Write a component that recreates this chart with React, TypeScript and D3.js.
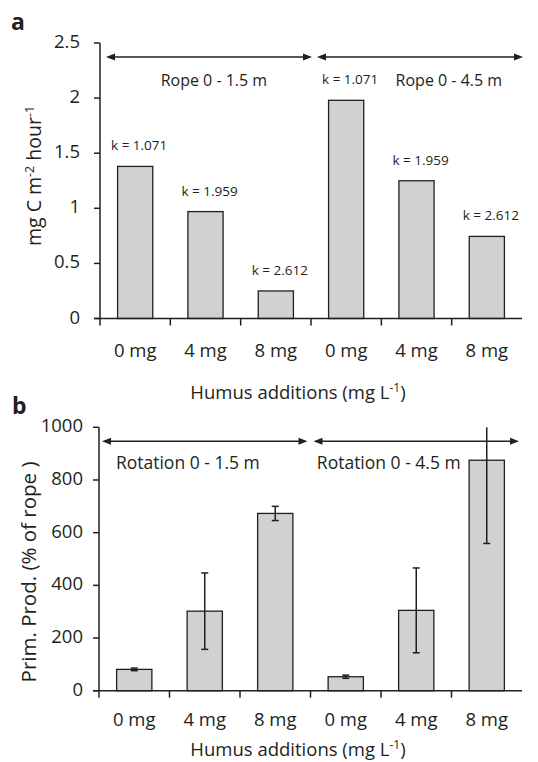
import React from 'react';
import * as d3 from 'd3';

const categories = ['0 mg', '4 mg', '8 mg', '0 mg', '4 mg', '8 mg'];

// panel a: rate per treatment and k labels
const rateValues = [1.38, 0.97, 0.25, 1.98, 1.25, 0.745];
const kLabels = ['k = 1.071', 'k = 1.959', 'k = 2.612', 'k = 1.071', 'k = 1.959', 'k = 2.612'];
const rateTicks = [0, 0.5, 1, 1.5, 2, 2.5];
const ropeGroups = ['Rope 0 - 1.5 m', 'Rope 0 - 4.5 m'];

// panel b: primary production relative to rope, with errors
const primValues = [81, 302, 673, 53, 305, 875];
const primErrors = [5, 145, 27, 6, 161, 316];
const primTicks = [0, 200, 400, 600, 800, 1000];
const rotationGroups = ['Rotation 0 - 1.5 m', 'Rotation 0 - 4.5 m'];

const FONT = '"Open Sans", Lato, sans-serif';
const INK = '#231f20';
const BAR_FILL = '#d0d1d0';

type PanelProps = {
  letter: string;
  values: number[];
  errors?: number[];
  ticks: number[];
  groups: string[];
  top: number;
  bottom: number;
  left: number;
  right: number;
  tickRight: number;
  catDy: number;
  yTitle: React.ReactNode;
  yTitleX: number;
  yTitleY: number;
  yTitleSize: number;
  groupAnchor: 'middle' | 'start';
  groupPos: number[];
  groupLabelDy: number;
  groupSize: number;
  arrowInset: [number, number];
  labels?: string[];
};

const Arrow = ({ x1, x2, y }: { x1: number; x2: number; y: number }) => (
  <g>
    <line x1={x1 + 6} x2={x2 - 6} y1={y} y2={y} stroke={INK} strokeWidth={1.5} />
    <path d={`M${x1},${y}L${x1 + 9},${y - 3.5}L${x1 + 9},${y + 3.5}Z`} fill={INK} />
    <path d={`M${x2},${y}L${x2 - 9},${y - 3.5}L${x2 - 9},${y + 3.5}Z`} fill={INK} />
  </g>
);

const Panel = (p: PanelProps) => {
  const x = d3.scaleBand<number>()
    .domain(d3.range(categories.length))
    .range([p.left, p.right])
    .paddingInner(0.5)
    .paddingOuter(0.25);
  const step = x.step();
  const y = d3.scaleLinear()
    .domain([0, p.ticks[p.ticks.length - 1]])
    .range([p.bottom, p.top]);
  const yMax = y.domain()[1];
  const edge = (i: number) => p.left + step * i;
  const arrowY = p.top + 14;

  return (
    <g fontFamily={FONT} fill={INK}>
      <text x={p.letter === 'a' ? 11 : 12} y={p.top - 13} fontSize={23} fontWeight="bold">{p.letter}</text>

      {/* bars */}
      {p.values.map((v, i) => (
        <rect key={i} x={x(i)} y={y(v)} width={x.bandwidth()} height={p.bottom - y(v)}
          fill={BAR_FILL} stroke={INK} strokeWidth={1.3} />
      ))}

      {/* error bars */}
      {p.errors && p.values.map((v, i) => {
        const e = p.errors![i];
        const cx = (x(i) as number) + x.bandwidth() / 2;
        const hi = Math.min(v + e, yMax);
        const lo = v - e;
        return (
          <g key={i} stroke={INK} strokeWidth={1.5}>
            <line x1={cx} x2={cx} y1={y(hi)} y2={y(lo)} />
            {v + e <= yMax && <line x1={cx - 3.5} x2={cx + 3.5} y1={y(hi)} y2={y(hi)} />}
            <line x1={cx - 3.5} x2={cx + 3.5} y1={y(lo)} y2={y(lo)} />
          </g>
        );
      })}

      {/* k labels */}
      {p.labels && p.values.map((v, i) => (
        <text key={i} x={(x(i) as number) + x.bandwidth() / 2 + 4} y={y(v) - 16}
          fontSize={13.5} textAnchor="middle">{p.labels![i]}</text>
      ))}

      {/* y axis */}
      <line x1={p.left} x2={p.left} y1={p.top} y2={p.bottom} stroke={INK} strokeWidth={1.5} />
      {p.ticks.map((t) => (
        <g key={t}>
          <line x1={p.left - 6} x2={p.left} y1={y(t)} y2={y(t)} stroke={INK} strokeWidth={1.5} />
          <text x={p.tickRight} y={y(t) + 5} fontSize={18.5} textAnchor="end">{String(t)}</text>
        </g>
      ))}

      {/* x axis */}
      <line x1={p.left - 6} x2={p.right} y1={p.bottom} y2={p.bottom} stroke={INK} strokeWidth={1.5} />
      {d3.range(categories.length).map((i) => (
        <line key={i} x1={edge(i)} x2={edge(i)} y1={p.bottom} y2={p.bottom + 7} stroke={INK} strokeWidth={1.5} />
      ))}
      {categories.map((c, i) => (
        <text key={i} x={(x(i) as number) + x.bandwidth() / 2} y={p.bottom + p.catDy} fontSize={18.5} textAnchor="middle">{c}</text>
      ))}

      {/* group arrows */}
      {p.groups.map((g, gi) => (
        <g key={g}>
          <Arrow x1={edge(gi * 3) + p.arrowInset[0]} x2={edge(gi * 3 + 3) + p.arrowInset[1]} y={arrowY} />
          <text x={p.left + step * (p.groupPos[gi] + 0.5)} y={arrowY + p.groupLabelDy}
            fontSize={p.groupSize} textAnchor={p.groupAnchor}>{g}</text>
        </g>
      ))}

      {/* y title */}
      <text transform={`translate(${p.yTitleX},${p.yTitleY}) rotate(-90)`}
        fontSize={p.yTitleSize} textAnchor="middle">{p.yTitle}</text>
    </g>
  );
};

const XTitle = ({ y }: { y: number }) => (
  <text x={298} y={y} fontFamily={FONT} fontSize={18.5} textAnchor="middle" fill={INK}>
    Humus additions (mg L<tspan dy={-7} fontSize={12}>-1</tspan><tspan dy={7}>)</tspan>
  </text>
);

export default function App() {
  return (
    <svg width={538} height={762} style={{ position: 'absolute', left: 0, top: 0, background: '#fff' }}>
      <Panel
        letter="a"
        values={rateValues}
        ticks={rateTicks}
        groups={ropeGroups}
        top={43}
        bottom={318.5}
        left={100}
        right={522}
        tickRight={80}
        catDy={38}
        yTitle={<>mg C m<tspan dy={-7} fontSize={12.5}>-2</tspan><tspan dy={7}> hour</tspan><tspan dy={-7} fontSize={12.5}>-1</tspan></>}
        yTitleX={41}
        yTitleY={176}
        yTitleSize={19.5}
        groupAnchor="middle"
        groupPos={[1.12, 4.46]}
        groupLabelDy={29}
        groupSize={16}
        arrowInset={[6, 1]}
        labels={kLabels}
      />
      <XTitle y={399} />
      <Panel
        letter="b"
        values={primValues}
        errors={primErrors}
        ticks={primTicks}
        groups={rotationGroups}
        top={427.3}
        bottom={690.7}
        left={99}
        right={522}
        tickRight={83}
        catDy={35}
        yTitle="Prim. Prod. (% of rope )"
        yTitleX={36}
        yTitleY={572}
        yTitleSize={20.5}
        groupAnchor="start"
        groupPos={[-0.26, 2.59]}
        groupLabelDy={28}
        groupSize={17.5}
        arrowInset={[3, -3]}
      />
      <XTitle y={756} />
    </svg>
  );
}
